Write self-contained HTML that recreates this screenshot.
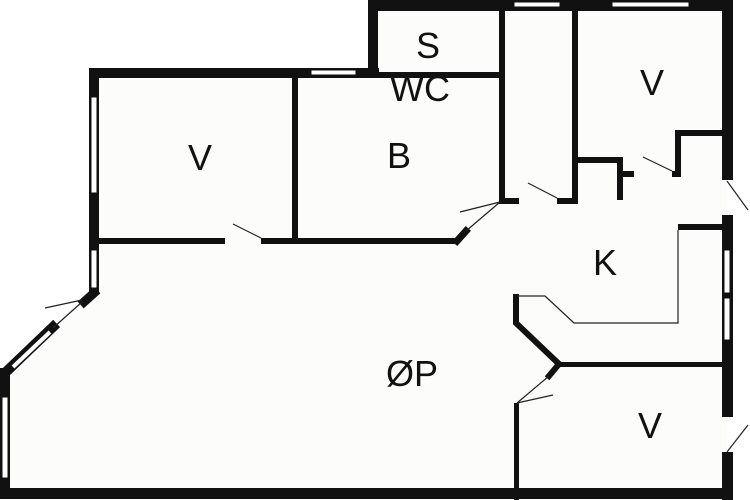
<!DOCTYPE html>
<html><head><meta charset="utf-8"><style>
html,body{margin:0;padding:0;background:#fff;}
svg{display:block}
text{font-family:"Liberation Sans",sans-serif;font-size:36px;fill:#111;text-anchor:middle}
</style></head><body>
<svg width="750" height="500" viewBox="0 0 750 500">
<polygon points="94,73 373,73 373,5 727,5 727,493 5,493 5,370 94,296" fill="#fcfcfa"/>
<g fill="#111">
<rect x="368" y="0" width="365" height="11"/>
<rect x="722" y="0" width="11" height="180"/>
<rect x="722" y="215" width="11" height="202"/>
<rect x="722" y="452" width="11" height="48"/>
<rect x="0" y="488" width="733" height="11"/>
<rect x="89" y="68" width="290" height="10"/>
<rect x="368" y="0" width="10" height="78"/>
<rect x="89" y="68" width="10" height="226"/>
<rect x="0" y="368" width="10" height="131"/>
<rect x="378" y="72" width="127" height="6"/>
<rect x="499" y="8" width="6" height="196"/>
<rect x="572" y="8" width="6" height="196"/>
<rect x="499" y="198" width="20" height="6"/>
<rect x="557" y="198" width="21" height="6"/>
<rect x="292" y="78" width="6" height="166"/>
<rect x="99" y="238" width="126" height="6"/>
<rect x="261" y="238" width="196" height="6"/>
<rect x="677" y="130" width="50" height="6"/>
<rect x="675" y="130" width="6" height="47"/>
<rect x="577" y="157" width="45" height="6"/>
<rect x="617" y="157" width="6" height="43"/>
<rect x="622" y="171" width="12" height="6"/>
<rect x="672" y="171" width="9" height="6"/>
<rect x="678" y="224" width="49" height="6"/>
<rect x="559" y="362" width="168" height="5"/>
<rect x="514" y="403" width="5" height="97"/>
</g>
<g stroke="#111" fill="none" stroke-linecap="square">
<line x1="457" y1="241" x2="466" y2="231" stroke-width="7"/>
<polyline points="516,297 516,323 559,364" stroke-width="6"/>
<line x1="559" y1="364" x2="549" y2="376" stroke-width="6"/>
<line x1="94" y1="293" x2="84" y2="302" stroke-width="9"/>
<line x1="10" y1="368" x2="4" y2="374" stroke-width="8"/>
<line x1="8" y1="370" x2="53" y2="327" stroke-width="10"/>
</g>
<line x1="13" y1="367" x2="50" y2="332" stroke="#fff" stroke-width="4"/>
<g stroke="#222" stroke-width="1.2" fill="none">
<line x1="466" y1="231" x2="500" y2="202"/><line x1="460" y1="212" x2="500" y2="202"/>
<line x1="261" y1="238" x2="233" y2="224"/>
<line x1="557" y1="198" x2="528" y2="183"/>
<line x1="672" y1="171" x2="643" y2="157"/>
<line x1="727" y1="181" x2="748" y2="210"/>
<line x1="727" y1="452" x2="748" y2="425"/>
<line x1="549" y1="376" x2="517" y2="403"/><line x1="517" y1="403" x2="553" y2="395"/>
<line x1="82" y1="302" x2="53" y2="328"/><line x1="82" y1="300" x2="45" y2="308"/>
<polyline points="517,296 545,296 574,323 678,323 678,230"/>
</g>
<g fill="#fff" stroke="#111" stroke-width="1">
<rect x="311" y="70" width="45" height="5"/>
<rect x="514" y="2" width="46" height="5"/>
<rect x="612" y="2" width="77" height="5"/>
<rect x="91" y="97" width="6" height="96"/>
<rect x="91" y="250" width="6" height="38"/>
<rect x="2" y="397" width="6" height="81"/>
<rect x="724" y="250" width="6" height="43"/>
<rect x="724" y="298" width="6" height="42"/>
</g>
<text x="428" y="58">S</text>
<text x="420" y="101">WC</text>
<text x="200" y="170">V</text>
<text x="399" y="168">B</text>
<text x="652" y="95">V</text>
<text x="605" y="275">K</text>
<text x="412" y="386">ØP</text>
<text x="650" y="438">V</text>
</svg>
</body></html>
